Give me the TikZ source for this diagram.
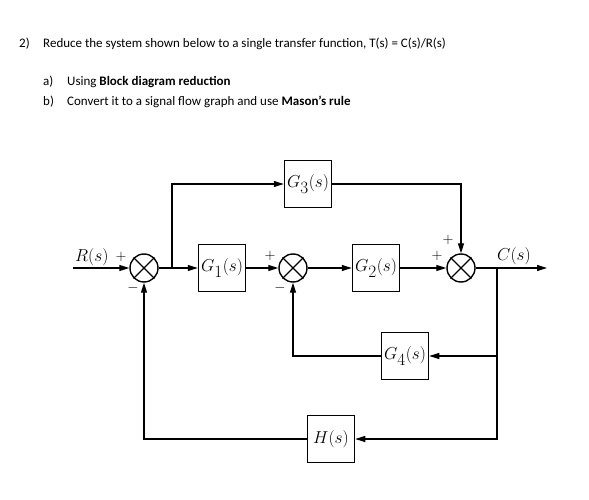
\documentclass[tikz,border=0pt]{standalone}
\usepackage{fontspec}
\setmainfont{Carlito}
\usetikzlibrary{arrows.meta}
\tikzset{
  blk/.style={draw, line width=1.5pt, minimum width=47pt, minimum height=47pt, inner sep=0pt, font=\fontsize{16}{16}\selectfont},
  summer/.style={draw, circle, line width=1.4pt, minimum size=28pt, inner sep=0pt},
  sig/.style={line width=1.2pt, -{Triangle[length=10pt,width=6pt]}},
  wire/.style={line width=1.2pt},
  sgn/.style={font=\fontsize{15}{15}\selectfont, inner sep=0pt},
  txt/.style={anchor=west, inner sep=0pt, font=\fontsize{13}{15}\selectfont}
}
\begin{document}
\begin{tikzpicture}[x=1pt, y=-1pt]
\useasboundingbox (0,0) rectangle (589,500);
% question text
\node[txt] (qnum) at (19,44) {2)};
\node[txt] (qtxt) at (43,44) {Reduce the system shown below to a single transfer function, T(s) = C(s)/R(s)};
\node[txt] (pa) at (43,82) {a)};
\node[txt] (pat) at (67,82) {Using \textbf{Block diagram reduction}};
\node[txt] (pb) at (43,102) {b)};
\node[txt] (pbt) at (67,102) {Convert it to a signal flow graph and use \textbf{Mason’s rule}};
% summing junctions
\node[summer] (sum1) at (144,268) {};
\node[summer] (sum2) at (293,268) {};
\node[summer] (sum3) at (461,268) {};
\foreach \s in {sum1,sum2,sum3} {
  \draw[line width=1.4pt] (\s.north east) -- (\s.south west);
  \draw[line width=1.4pt] (\s.north west) -- (\s.south east);
}
% blocks
\node[blk] (g1) at (222,268) {$G_{\textstyle 1}(s)$};
\node[blk] (g2) at (376,268) {$G_{\textstyle 2}(s)$};
\node[blk] (g3) at (308,184) {$G_{\textstyle 3}(s)$};
\node[blk] (g4) at (405,356) {$G_{\textstyle 4}(s)$};
\node[blk] (h) at (331,439) {$H(s)$};
% branch points and ends
\coordinate (rin) at (73,268);
\coordinate (cout) at (547,268);
\coordinate (br1) at (172,268);
\coordinate (br2) at (497,268);
% signals
\node[anchor=south west, inner sep=2pt, font=\fontsize{16}{16}\selectfont] (rlbl) at (rin) {$R(s)$};
\node[anchor=south, inner sep=3pt, font=\fontsize{16}{16}\selectfont] (clbl) at (514,268) {$C(s)$};
\draw[sig] (rin) -- (sum1);
\draw[wire] (sum1) -- (br1);
\draw[sig] (br1) -- (g1);
\draw[sig] (br1) |- (g3);
\draw[sig] (g3) -| (sum3);
\draw[sig] (g1) -- (sum2);
\draw[sig] (sum2) -- (g2);
\draw[sig] (g2) -- (sum3);
\draw[sig] (sum3) -- (cout);
\draw[sig] (br2) |- (g4);
\draw[sig] (g4) -| (sum2);
\draw[sig] (br2) |- (h);
\draw[sig] (h) -| (sum1);
% signs
\node[sgn] (s1p) at (121,257) {$+$};
\node[sgn] (s1m) at (133,288) {$-$};
\node[sgn] (s2p) at (270,256) {$+$};
\node[sgn] (s2m) at (280,288) {$-$};
\node[sgn] (s3p) at (448,240) {$+$};
\node[sgn] (s3q) at (437,256) {$+$};
\end{tikzpicture}
\end{document}
